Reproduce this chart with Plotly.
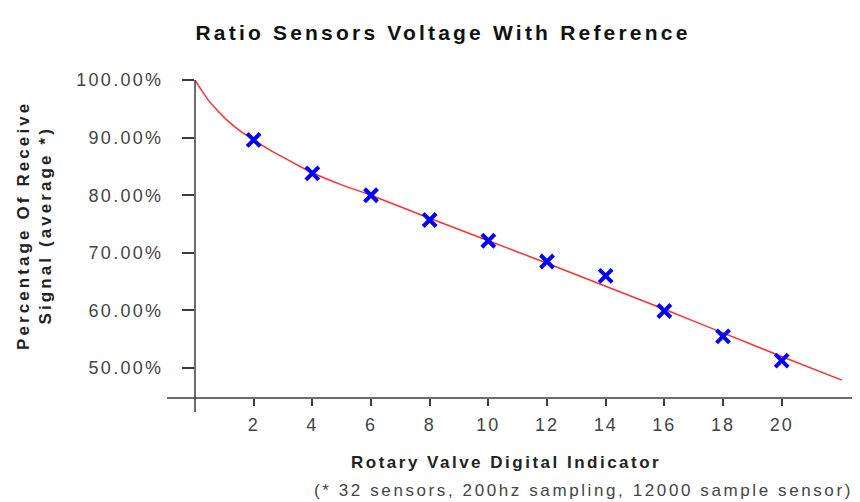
import plotly.graph_objects as go

# Measured points
x_points = [2, 4, 6, 8, 10, 12, 14, 16, 18, 20]
y_points = [89.6, 83.8, 80.0, 75.7, 72.1, 68.5, 66.0, 59.9, 55.5, 51.3]

# Trend curve
x_curve = [0, 0.2, 0.44, 0.75, 1.12, 1.5, 2, 2.5, 3, 3.5, 4, 5, 6, 8, 10, 12, 14, 16, 18, 20, 22.05]
y_curve = [100, 98.4, 96.6, 94.8, 92.9, 91.3, 89.6, 88.0, 86.6, 85.2, 83.9, 81.8, 80.0, 76.0, 72.1, 68.2, 64.2, 60.2, 56.1, 52.0, 47.9]

x_ticks = [2, 4, 6, 8, 10, 12, 14, 16, 18, 20]
y_ticks = [50, 60, 70, 80, 90, 100]

title_text = "Ratio Sensors Voltage With Reference"
x_title = "Rotary Valve Digital Indicator"
x_note = "(* 32 sensors, 200hz sampling, 12000 sample sensor)"
y_title_lines = ["Percentage Of Receive", "Signal (average *)"]


def spaced(s, px, bold=False):
    inner = "<b>" + s + "</b>" if bold else s
    return '<span style="letter-spacing:%spx">%s</span>' % (px, inner)


# figure is drawn 8px in from the page corner (body margin)
OFF = 8
W, H = 860 - OFF, 502 - OFF
L, R, T, B = 195 - OFF, 0, 80 - OFF, 502 - 398
pw, ph = W - L - R, H - T - B

FONT = "Liberation Sans, Arial, sans-serif"
axis_col = "#3c3c3c"

fig = go.Figure()
fig.add_trace(go.Scatter(x=x_curve, y=y_curve, mode="lines",
                         line=dict(color="#ff3030", width=1.5, shape="spline", smoothing=0.6),
                         hoverinfo="skip", showlegend=False))
fig.add_trace(go.Scatter(x=x_points, y=y_points, mode="markers",
                         marker=dict(symbol="x-thin", size=13, line=dict(color="#0000ff", width=4), color="#0000ff"),
                         showlegend=False))


def fx(px):  # screen x -> paper x
    return (px - OFF - L) / pw


def fy(py):  # screen y -> paper y
    return 1 - (py - OFF - T) / ph


fig.update_layout(
    width=W, height=H, margin=dict(l=L, r=R, t=T, b=B, pad=0),
    paper_bgcolor="white", plot_bgcolor="white",
    title=dict(text=spaced(title_text, 3.2, bold=True), x=(443 - OFF) / W, xref="container", xanchor="center",
               y=1 - (33 - OFF) / H, yref="container", yanchor="middle",
               font=dict(family=FONT, size=21, color="#111")),
    xaxis=dict(range=[0, 22.67], tickvals=x_ticks, ticktext=[spaced(str(v), 2) for v in x_ticks],
               ticks="outside", ticklen=7, tickwidth=1.5, tickcolor=axis_col,
               showgrid=False, zeroline=False, showline=False,
               tickfont=dict(family=FONT, size=18, color="#444"), ticklabelstandoff=3),
    yaxis=dict(range=[44.8, 100], tickvals=y_ticks, ticktext=[spaced("%.2f%%" % v, 2.3) for v in y_ticks],
               ticks="outside", ticklen=12, tickwidth=1.5, tickcolor=axis_col,
               showgrid=False, zeroline=False, showline=False,
               tickfont=dict(family=FONT, size=18, color="#444"), ticklabelstandoff=15),
    shapes=[
        dict(type="line", xref="paper", yref="paper", x0=-28 / pw, x1=1, y0=0, y1=0,
             line=dict(color=axis_col, width=1.5)),
        dict(type="line", xref="paper", yref="paper", x0=0, x1=0, y0=-14 / ph, y1=1,
             line=dict(color=axis_col, width=1.5)),
    ],
    annotations=[
        dict(text=spaced(x_title, 2.5, bold=True), xref="paper", yref="paper", x=fx(506), y=fy(462),
             xanchor="center", yanchor="middle", showarrow=False,
             font=dict(family=FONT, size=17, color="#222")),
        dict(text=spaced(x_note, 2.6), xref="paper", yref="paper", x=fx(583), y=fy(490),
             xanchor="center", yanchor="middle", showarrow=False,
             font=dict(family=FONT, size=17, color="#444")),
        dict(text=spaced(y_title_lines[0], 3.1, bold=True) + "<br>" + spaced(y_title_lines[1], 3.1, bold=True),
             xref="paper", yref="paper", x=fx(34), y=fy(226),
             xanchor="center", yanchor="middle", showarrow=False, textangle=-90,
             font=dict(family=FONT, size=17, color="#222")),
    ],
)

fig.write_html("out.html")
